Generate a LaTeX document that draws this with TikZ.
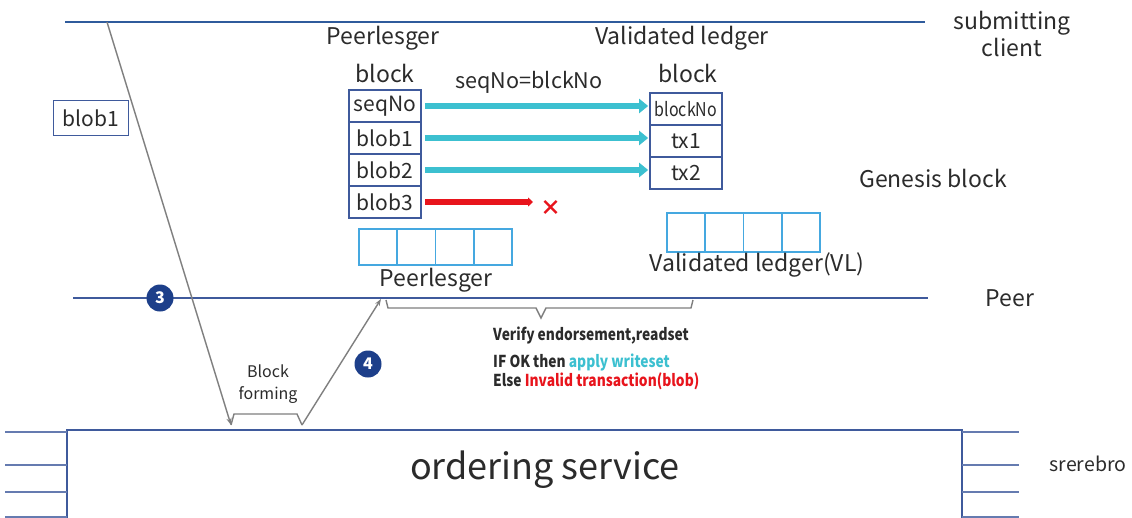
\documentclass[tikz,border=0pt]{standalone}
\usepackage{fontspec}
\setmainfont{Noto Sans CJK SC}
\newfontfamily\condfont[FakeStretch=0.84]{Noto Sans CJK SC}
\usetikzlibrary{arrows.meta}
\definecolor{lineblue}{HTML}{2F5B9C}
\definecolor{boxblue}{HTML}{3F5A9C}
\definecolor{cyanar}{HTML}{3CC0D0}
\definecolor{sqblue}{HTML}{45A8E0}
\definecolor{circblue}{HTML}{1D3F8A}
\definecolor{grayar}{HTML}{7F7F7F}
\definecolor{redar}{HTML}{E8141C}
\definecolor{txtc}{HTML}{2B2B2B}
\tikzset{
  bline/.style={draw=lineblue, line width=2.8pt},
  txt/.style={text=txtc, inner sep=0pt, font=\fontsize{23}{26}\selectfont},
  cell/.style={draw=boxblue, line width=1.7pt, minimum width=72pt, minimum height=32pt, inner sep=0pt, text=txtc, font=\fontsize{21}{22}\selectfont},
  sq/.style={draw=sqblue, line width=1.6pt},
  cyarrow/.style={draw=cyanar, line width=6.5pt, -{Triangle[length=9pt,width=14pt]}},
  redarrow/.style={draw=redar, line width=6.5pt, -{Triangle[length=5pt,width=9pt]}},
  grayarrow/.style={draw=grayar, line width=1.4pt, -{Stealth[length=7pt,width=5pt]}},
  numcirc/.style={circle, fill=circblue, minimum size=27pt, inner sep=0pt, text=white, font=\fontsize{16}{17}\selectfont\bfseries},
  small/.style={text=txtc, inner sep=0pt, anchor=west, font=\condfont\fontsize{16.4}{18}\selectfont\bfseries}
}
\begin{document}
\begin{tikzpicture}[x=1pt,y=-1pt]
\useasboundingbox (0,0) rectangle (1132,517);
\fill[white] (0,0) rectangle (1132,517);

% horizontal lines
\coordinate (tl) at (65,22); \coordinate (tr) at (925,22);
\coordinate (pl) at (73,298); \coordinate (pr) at (928,298);
\draw[bline] (tl) -- (tr);
\draw[bline, draw=boxblue] (pl) -- (pr);
\node[txt, align=center, font=\fontsize{23}{27}\selectfont] (client) at (1012,34) {submitting\\client};
\node[txt] (peer) at (1010,298) {Peer};
\node[txt] (genesis) at (933,178) {Genesis block};

% ordering service
\draw[draw=boxblue, line width=1.8pt] (67,520) -- (67,430) -- (962,430) -- (962,520);
\foreach \yy in {432,465,492,517} {
  \draw[draw=boxblue!80, line width=1.8pt] (5,\yy) -- (67,\yy);
  \draw[draw=boxblue!80, line width=1.8pt] (962,\yy) -- (1019,\yy);
}
\node[txt, font=\fontsize{36}{40}\selectfont] (os) at (545,470) {ordering service};
\node[txt, font=\fontsize{19.5}{22}\selectfont] (srer) at (1088,464) {srerebro};

% blob1 on the left
\node[cell, minimum width=75pt, minimum height=35pt] (lblob) at (91,118) {blob1};

% peer ledger block
\node[txt] (plt) at (383,38) {Peerlesger};
\node[txt] (pblk) at (385,73) {block};
\node[cell] (seq) at (385,106) {seqNo};
\node[cell] (b1) at (385,138) {blob1};
\node[cell] (b2) at (385,170) {blob2};
\node[cell] (b3) at (385,202) {blob3};

% validated ledger block
\node[txt] (vlt) at (682,38) {Validated ledger};
\node[txt] (vblk) at (688,73) {block};
\node[cell, font=\condfont\fontsize{19}{20}\selectfont] (bno) at (686,109) {blockNo};
\node[cell] (tx1) at (686,141) {tx1};
\node[cell] (tx2) at (686,173) {tx2};

\node[txt, font=\fontsize{21.6}{24}\selectfont] (eq) at (529,82) {seqNo=blckNo};

% arrows
\draw[cyarrow] ([xshift=3pt]seq.east) -- ([xshift=-1pt]bno.west |- seq.east);
\draw[cyarrow] ([xshift=3pt]b1.east) -- ([xshift=-1pt]tx1.west |- b1.east);
\draw[cyarrow] ([xshift=3pt]b2.east) -- ([xshift=-1pt]tx2.west |- b2.east);
\coordinate (rend) at (533,205);
\draw[redarrow] ([xshift=3pt]b3.east) -- (rend |- b3.east);
\node[text=redar, inner sep=0pt, font=\fontsize{21}{22}\selectfont\bfseries] (cross) at (551,208) {×};

% small ledgers
\foreach \i in {0,1,2,3} {
  \draw[sq] (359+38.25*\i,229) rectangle (359+38.25*\i+38.25,265);
  \draw[sq] (667+38.25*\i,213) rectangle (667+38.25*\i+38.25,252);
}
\node[txt] (pll) at (436,280) {Peerlesger};
\node[txt] (vll) at (757,265) {Validated ledger(VL)};

% gray flow arrows
\coordinate (s1) at (107,22);
\coordinate (e1) at (231,425);
\coordinate (s2) at (302,425);
\coordinate (e2) at (381,299);
\draw[grayarrow] (s1) -- (e1);
\draw[grayarrow] (s2) -- (e2);
\draw[draw=grayar, line width=1.4pt] (e1) -- (234,414) -- (297,414) -- (s2);
\node[txt, align=center, font=\fontsize{16}{22}\selectfont] (bf) at (268,384) {Block\\forming};

% brace under peer line
\draw[draw=grayar, line width=1.4pt] (386,300) -- (388,308) -- (536,308) -- (541,318) -- (546,308) -- (691,308) -- (693,300);
\node[small] (v1) at (493,336) {Verify endorsement,readset};
\node[small] (v2) at (493,362) {IF OK then \textcolor{cyanar}{apply writeset}};
\node[small] (v3) at (493,381) {Else \textcolor{redar}{Invalid transaction(blob)}};

% numbered circles
\node[numcirc] (c3) at (160,298) {3};
\node[numcirc] (c4) at (368,364) {4};
\end{tikzpicture}
\end{document}
